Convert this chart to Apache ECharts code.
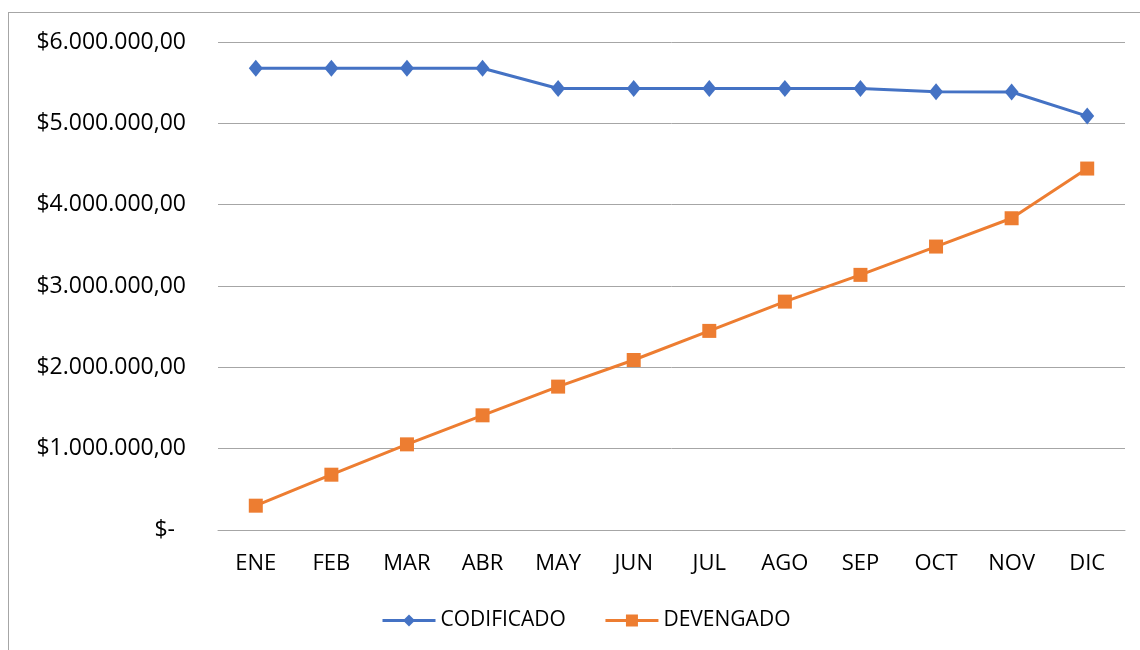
<!DOCTYPE html>
<html>
<head>
<meta charset="utf-8">
<script src="https://cdn.jsdelivr.net/npm/echarts@6/dist/echarts.min.js"></script>
<style>
  html, body { margin: 0; padding: 0; background: #fff; overflow: hidden; }
  #frame { position: absolute; left: 8px; top: 12px; width: 1200px; height: 700px;
           border-left: 1px solid #a6a6a6; border-top: 1px solid #a6a6a6; }
  #chart1 { position: absolute; left: 0; top: 0; width: 1140px; height: 650px; }
</style>
</head>
<body>
<div id="frame"></div>
<div id="chart1"></div>
<script>
const months = ['ENE', 'FEB', 'MAR', 'ABR', 'MAY', 'JUN', 'JUL', 'AGO', 'SEP', 'OCT', 'NOV', 'DIC'];
const codificado = [5677000, 5677000, 5677000, 5677000, 5428000, 5428000, 5428000, 5428000, 5428000, 5388000, 5385000, 5089000];
const devengado = [299000, 680000, 1053000, 1410000, 1763000, 2090000, 2448000, 2808000, 3137000, 3485000, 3833000, 4444000];
const yTicks = [0, 1000000, 2000000, 3000000, 4000000, 5000000, 6000000];

const fontFam = '"Open Sans", "Noto Sans", sans-serif';

const fmtMoney = v => {
  if (v === 0) return '{z|$-}';
  let s = String(Math.round(v)).replace(/\B(?=(\d{3})+(?!\d))/g, '.');
  return '$' + s + ',00';
};

const initChart = () => {
  let element = document.getElementById('chart1');
  let myChart = echarts.init(element);
  myChart.clear();
  let option;
  option = {
    animation: false,
    grid: { left: 218, right: 15, top: 42, bottom: 120, containLabel: false },
    legend: {
      bottom: 14,
      left: 376,
      itemWidth: 53,
      itemHeight: 15,
      itemGap: 38,
      lineStyle: { width: 3 },
      textStyle: { fontFamily: fontFam, fontSize: 21, color: '#000' },
      data: ['CODIFICADO', 'DEVENGADO']
    },
    xAxis: {
      type: 'category',
      data: months,
      boundaryGap: true,
      axisLine: { show: true, lineStyle: { color: '#a6a6a6', width: 1 } },
      axisTick: { show: false },
      axisLabel: { fontFamily: fontFam, fontSize: 22, color: '#000', margin: 23 }
    },
    yAxis: {
      type: 'value',
      min: yTicks[0],
      max: yTicks[yTicks.length - 1],
      interval: 1000000,
      axisLine: { show: false },
      axisTick: { show: false },
      splitLine: { lineStyle: { color: '#a6a6a6', width: 1 } },
      axisLabel: {
        fontFamily: fontFam, fontSize: 23, color: '#000', margin: 32,
        formatter: fmtMoney,
        rich: { z: { fontFamily: fontFam, fontSize: 23, color: '#000', padding: [0, 11, 0, 0] } }
      }
    },
    series: [
      {
        name: 'CODIFICADO',
        type: 'line',
        data: codificado,
        symbol: 'diamond',
        symbolSize: [14, 17],
        itemStyle: { color: '#4472c4' },
        lineStyle: { color: '#4472c4', width: 3 }
      },
      {
        name: 'DEVENGADO',
        type: 'line',
        data: devengado,
        symbol: 'rect',
        symbolSize: 14,
        itemStyle: { color: '#ed7d31' },
        lineStyle: { color: '#ed7d31', width: 3 }
      }
    ]
  };

  option && myChart.setOption(option);
};

initChart();
</script>
</body>
</html>
